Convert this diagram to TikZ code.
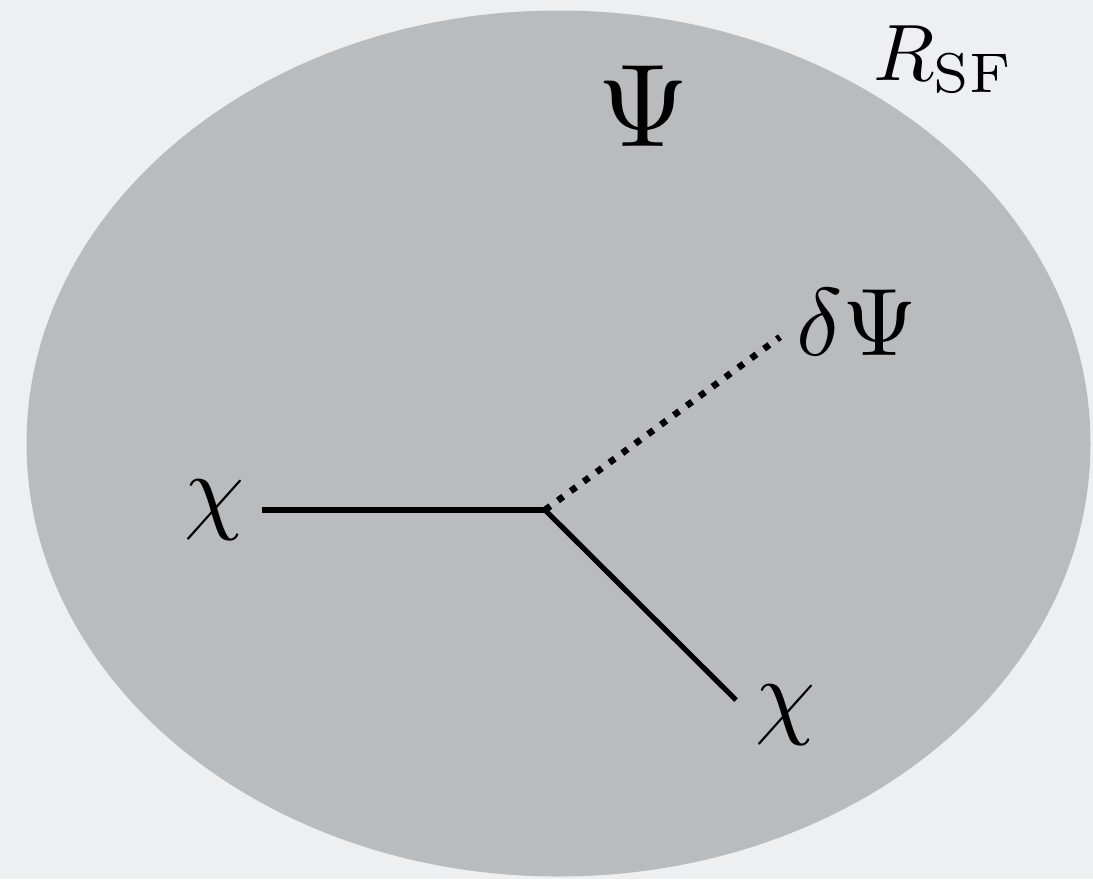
\documentclass[tikz,border=0pt]{standalone}
\usepackage{graphicx}
\definecolor{bgcol}{HTML}{EDEFF1}
\definecolor{blobcol}{HTML}{B9BCBE}
\tikzset{
  lbl/.style={inner sep=0pt, outer sep=0pt, text=black},
  solidline/.style={line width=2.6pt, line cap=butt, black},
  dotline/.style={line width=3.3pt, dash pattern=on 3.3pt off 4.7pt, black}
}
\begin{document}
\begin{tikzpicture}[x=0.5pt,y=-0.5pt]
\fill[bgcol] (0,0) rectangle (1093,879);
\useasboundingbox (0,0) rectangle (1093,879);
\fill[blobcol] (558.5,443.5) ellipse [x radius=532, y radius=433];
\coordinate (v) at (545,510);
\coordinate (l) at (262,510);
\coordinate (r) at (736,700);
\coordinate (d) at (780,337);
\draw[solidline] (l) -- (v);
\draw[solidline] (v) -- (r);
\draw[dotline] (v) -- (d);
\node[lbl, anchor=center] (psi) at (643,106) {\scalebox{5.9}{$\Psi$}};
\node[lbl, anchor=base west] (dpsi) at (796,355) {\scalebox{4.8}{$\delta\Psi$}};
\node[lbl, anchor=base west] (chil) at (184,521) {\scalebox{4.8}{$\chi$}};
\node[lbl, anchor=base west] (chir) at (755,726) {\scalebox{4.8}{$\chi$}};
\node[lbl, anchor=base west] (rsf) at (873,80) {\scalebox{4.0}{$R_{\mathrm{SF}}$}};
\end{tikzpicture}
\end{document}
